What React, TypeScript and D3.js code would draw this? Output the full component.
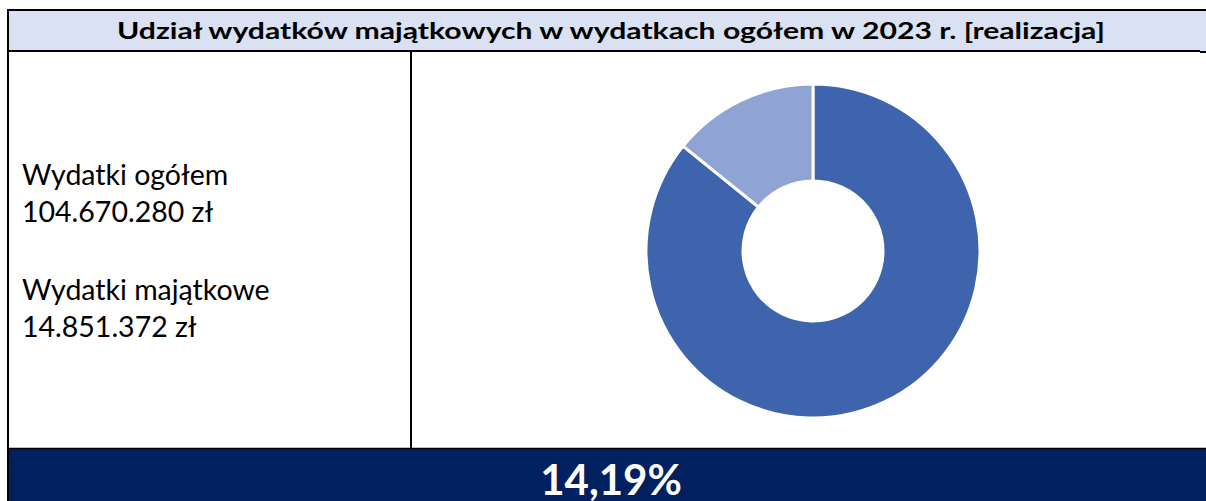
import React from "react";
import * as d3 from "d3";

const title = "Udział wydatków majątkowych w wydatkach ogółem w 2023 r. [realizacja]";
const sliceLabels = ["Pozostałe wydatki", "Wydatki majątkowe"];
const sliceValues = [104670280 - 14851372, 14851372];
const sliceColors = ["#3D64AC", "#8FA4D4"];
const infoLines = ["Wydatki ogółem", "104.670.280 zł", "", "Wydatki majątkowe", "14.851.372 zł"];
const shareLabel = "14,19%";

export default function App() {
  const W = 1206, H = 501;
  const cx = 813, cy = 251, rOuter = 167, rInner = 70;
  const pie = d3.pie<number>().sort(null).value((d) => d)(sliceValues);
  const arc = d3.arc<d3.PieArcDatum<number>>().innerRadius(rInner).outerRadius(rOuter);
  const font = "Lato, 'Open Sans', sans-serif";
  const lineY = [185, 222, 0, 300, 337];
  return (
    <svg width={W} height={H} style={{ position: "absolute", left: 0, top: 0, display: "block" }}>
      <rect x={0} y={0} width={W} height={H} fill="#ffffff" />
      <rect x={8} y={10} width={W - 8} height={41} fill="#D9E1F2" />
      <line x1={7} x2={W} y1={10} y2={10} stroke="#000" strokeWidth={2} />
      <line x1={7} x2={1200} y1={51} y2={51} stroke="#000" strokeWidth={2} />
      <line x1={1200} x2={W} y1={52} y2={52} stroke="#000" strokeWidth={2} />
      <text x={611} y={39} textAnchor="middle" fontFamily={font} fontWeight={700} fontSize={22} fill="#000" textLength={988} lengthAdjust="spacingAndGlyphs">{title}</text>
      <rect x={8} y={449} width={W - 8} height={H - 449} fill="#002060" />
      <line x1={7} x2={W} y1={448.5} y2={448.5} stroke="#000" strokeWidth={1.5} />
      <line x1={411} x2={411} y1={52} y2={449} stroke="#000" strokeWidth={2} />
      <line x1={8} x2={8} y1={9} y2={H} stroke="#000" strokeWidth={2} />
      {infoLines.map((t, i) => t ? (
        <text key={i} x={22} y={lineY[i]} fontFamily={font} fontSize={28.5} fill="#000">{t}</text>
      ) : null)}
      <g transform={`translate(${cx},${cy})`}>
        {pie.map((p, i) => (
          <path key={sliceLabels[i]} d={arc(p) || ""} fill={sliceColors[i]} stroke="#fff" strokeWidth={3} />
        ))}
      </g>
      <text x={611} y={495} textAnchor="middle" fontFamily={font} fontWeight={700} fontSize={42} fill="#fff">{shareLabel}</text>
    </svg>
  );
}
